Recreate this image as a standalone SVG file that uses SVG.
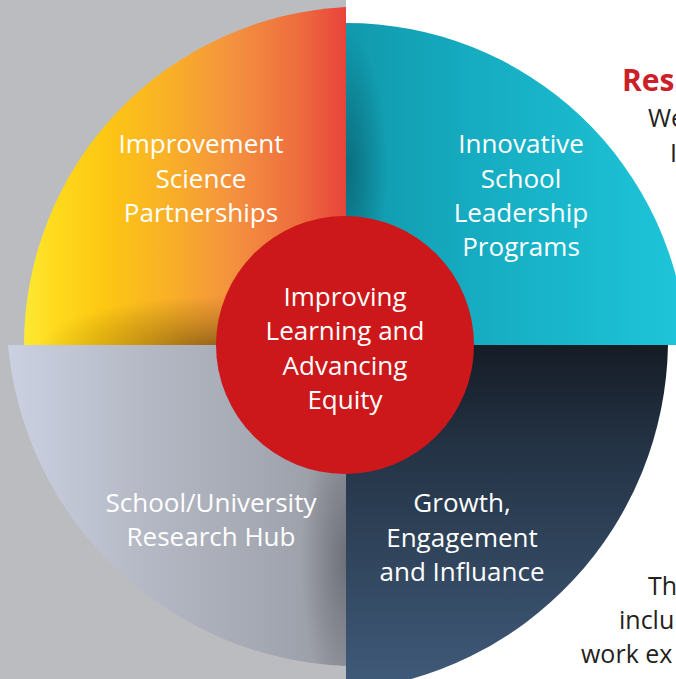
<svg xmlns="http://www.w3.org/2000/svg" width="676" height="679" viewBox="0 0 676 679">
<defs>
<linearGradient id="gOrange" gradientUnits="userSpaceOnUse" x1="24" y1="0" x2="346" y2="0">
<stop offset="0" stop-color="#fde934"/>
<stop offset="0.1" stop-color="#fed91c"/>
<stop offset="0.25" stop-color="#fdc713"/>
<stop offset="0.45" stop-color="#f9b027"/>
<stop offset="0.65" stop-color="#f4913f"/>
<stop offset="0.85" stop-color="#ee6d3e"/>
<stop offset="1" stop-color="#e8433b"/>
</linearGradient>
<radialGradient id="gOrangeShade" gradientUnits="userSpaceOnUse" cx="220" cy="350" r="180" gradientTransform="translate(220 350) scale(1 0.3) translate(-220 -350)">
<stop offset="0" stop-color="#4a3500" stop-opacity="0.6"/>
<stop offset="0.6" stop-color="#6a5000" stop-opacity="0.25"/>
<stop offset="1" stop-color="#6a5000" stop-opacity="0"/>
</radialGradient>
<linearGradient id="gTeal" gradientUnits="userSpaceOnUse" x1="346" y1="0" x2="676" y2="0">
<stop offset="0" stop-color="#1199ac"/>
<stop offset="0.35" stop-color="#15aabf"/>
<stop offset="1" stop-color="#1ec4d9"/>
</linearGradient>
<radialGradient id="gTealShade" gradientUnits="userSpaceOnUse" cx="346" cy="170" r="140" gradientTransform="translate(346 170) scale(0.3 1) translate(-346 -170)">
<stop offset="0" stop-color="#04404c" stop-opacity="0.5"/>
<stop offset="1" stop-color="#04404c" stop-opacity="0"/>
</radialGradient>
<linearGradient id="gDark" gradientUnits="userSpaceOnUse" x1="0" y1="345" x2="0" y2="690">
<stop offset="0" stop-color="#151c26"/>
<stop offset="0.3" stop-color="#243345"/>
<stop offset="1" stop-color="#405b7a"/>
</linearGradient>
<linearGradient id="gGray" gradientUnits="userSpaceOnUse" x1="8" y1="0" x2="346" y2="0">
<stop offset="0" stop-color="#cbd1e2"/>
<stop offset="0.4" stop-color="#b5b9c5"/>
<stop offset="0.8" stop-color="#a2a6b0"/>
<stop offset="1" stop-color="#979aa2"/>
</linearGradient>
<radialGradient id="gGrayShade" gradientUnits="userSpaceOnUse" cx="346" cy="560" r="150" gradientTransform="translate(346 560) scale(0.3 1) translate(-346 -560)">
<stop offset="0" stop-color="#3a3d44" stop-opacity="0.45"/>
<stop offset="1" stop-color="#3a3d44" stop-opacity="0"/>
</radialGradient>
</defs>
<style>
.lbl{font-family:"Open Sans","Noto Sans","DejaVu Sans",sans-serif;font-size:26px;fill:#ffffff;text-anchor:middle}
.body{font-family:"Open Sans","Noto Sans","DejaVu Sans",sans-serif;font-size:25px;fill:#231f20}
.head{font-family:"Open Sans","Noto Sans","DejaVu Sans",sans-serif;font-size:30px;font-weight:bold;fill:#cc1f2a}
</style>
<rect x="0" y="0" width="346" height="679" fill="#bbbcbf"/>
<rect x="346" y="0" width="330" height="679" fill="#ffffff"/>

<g id="improvement-science">
<path d="M346,345 L24,345 A339,339 0 0 1 346,7 Z" fill="url(#gOrange)"/>
<path d="M346,345 L24,345 A339,339 0 0 1 346,7 Z" fill="url(#gOrangeShade)"/>
<text class="lbl" x="201" y="153">Improvement</text>
<text class="lbl" x="201" y="188">Science</text>
<text class="lbl" x="201" y="222">Partnerships</text>
</g>

<g id="school-leadership">
<path d="M346,345 L346,23 A341,341 0 0 1 687,345 Z" fill="url(#gTeal)"/>
<path d="M346,345 L346,23 A341,341 0 0 1 687,345 Z" fill="url(#gTealShade)"/>
<text class="lbl" x="521" y="153">Innovative</text>
<text class="lbl" x="521" y="188">School</text>
<text class="lbl" x="521" y="222">Leadership</text>
<text class="lbl" x="521" y="256">Programs</text>
</g>

<g id="growth">
<path d="M346,345 L668,345 A353,353 0 0 1 346,691 Z" fill="url(#gDark)"/>
<text class="lbl" x="462" y="512">Growth,</text>
<text class="lbl" x="462" y="547">Engagement</text>
<text class="lbl" x="462" y="581">and Influance</text>
</g>

<g id="research-hub">
<path d="M346,345 L346,666 A353.5,353.5 0 0 1 8,345 Z" fill="url(#gGray)"/>
<path d="M346,345 L346,666 A353.5,353.5 0 0 1 8,345 Z" fill="url(#gGrayShade)"/>
<text class="lbl" x="211" y="512">School/University</text>
<text class="lbl" x="211" y="546">Research Hub</text>
</g>

<g id="center">
<circle cx="345" cy="345" r="129" fill="#cc181b"/>
<text class="lbl" x="345" y="306">Improving</text>
<text class="lbl" x="345" y="340">Learning and</text>
<text class="lbl" x="345" y="375">Advancing</text>
<text class="lbl" x="345" y="409">Equity</text>
</g>

<g id="connectors"></g>

<g id="side-text">
<text class="head" x="622" y="91">Res</text>
<text class="body" x="648" y="127">We</text>
<text class="body" x="670" y="162">I</text>
<text class="body" x="648" y="595">Th</text>
<text class="body" x="619" y="629">inclu</text>
<text class="body" x="581" y="663">work ex</text>
</g>
</svg>
